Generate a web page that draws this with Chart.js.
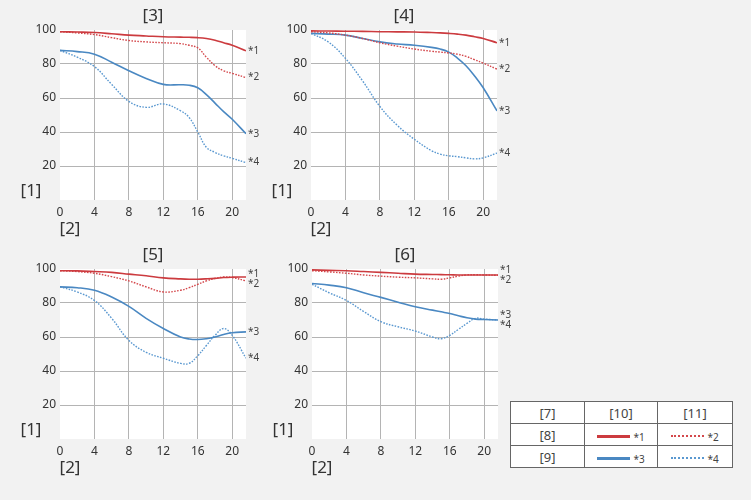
<!DOCTYPE html>
<html>
<head>
<meta charset="utf-8">
<script src="https://cdn.jsdelivr.net/npm/chart.js@4/dist/chart.umd.min.js"></script>
<style>
  body { margin: 0; background: #f2f2f2; font-family: "Noto Sans", sans-serif; color: #333; }
  #page { position: relative; width: 751px; height: 500px; overflow: hidden; }
  .panel { position: absolute; width: 260px; height: 240px; }
  .panel canvas { position: absolute; left: 0; top: 0; }
  .lbl { position: absolute; font-size: 17px; line-height: 20px; transform: translate(-50%, -50%); white-space: nowrap; }
  table.key { position: absolute; left: 510px; top: 401px; border-collapse: collapse; background: #fff; font-size: 13px; color: #444; }
  table.key td { border: 1px solid #666; height: 21px; text-align: center; padding: 0; }
  .sw { display: inline-block; width: 33px; vertical-align: middle; margin-right: 3px; }
  .sm { font-size: 10px; vertical-align: middle; }
</style>
</head>
<body>
<div id="page"></div>
<script>
// sample positions along the x axis
const X = [0, 2, 4, 6, 8, 10, 12, 14, 15, 16, 17, 18, 19, 20, 21.6];
const X_TICKS = [0, 4, 8, 12, 16, 20];
const Y_TICKS = [0, 20, 40, 60, 80, 100];
const SERIES_NAMES = ["*1", "*2", "*3", "*4"];
const PANEL_TITLES = ["[3]", "[4]", "[5]", "[6]"];

// panel [3]
const p3_s1 = [99, 98.8, 98.5, 97.8, 97, 96.5, 96, 95.8, 95.7, 95.5, 95, 94, 92.5, 91, 87.8];
const p3_s2 = [99, 98.3, 97.3, 95.5, 93.8, 93, 92.5, 92, 91, 89.5, 84, 79, 76, 74.5, 72];
const p3_s3 = [88, 87.3, 85.8, 81, 76, 71.5, 68, 67.8, 67.5, 66, 62, 57, 52, 47.5, 39];
const p3_s4 = [88, 84, 78.5, 68, 58, 54.5, 56.5, 52.5, 48.5, 40, 31, 28, 26, 24.5, 22];
// panel [4]
const p4_s1 = [99.5, 99.4, 99.3, 99.2, 99, 98.9, 98.8, 98.5, 98.3, 98, 97.6, 97, 96, 95, 92.5];
const p4_s2 = [99, 98.3, 97, 95, 92.5, 90.5, 88.8, 87.5, 87, 86.5, 85.8, 84.5, 82.5, 80.5, 77];
const p4_s3 = [98, 97.6, 97, 95, 93, 91.8, 91, 89.8, 88.8, 87, 83.5, 79, 73, 66, 52.4];
const p4_s4 = [98, 93, 83.3, 70, 55, 44, 35.7, 29, 27, 26, 25.5, 24.8, 24.2, 24.8, 27.6];
// panel [5]
const p5_s1 = [99, 98.9, 98.5, 98, 97, 96, 94.8, 94.2, 94, 94, 94.2, 94.5, 95, 95.2, 95.3];
const p5_s2 = [99, 98.5, 97.5, 95.5, 93, 89.5, 86.5, 87.5, 89, 91, 93, 94.5, 95.3, 95, 93];
const p5_s3 = [89.5, 89, 87.5, 83.5, 78, 71, 65, 60, 58.8, 58.5, 59, 60, 61.5, 62.5, 63];
const p5_s4 = [89.5, 86.5, 81.5, 71, 58, 51, 47.5, 44.5, 44.5, 49, 55, 61, 65, 61, 47.5];
// panel [6]
const p6_s1 = [99.5, 99.2, 99, 98.5, 98, 97.5, 97, 96.8, 96.7, 96.6, 96.5, 96.5, 96.5, 96.5, 96.5];
const p6_s2 = [99, 98.3, 97.5, 96.5, 95.8, 95.2, 94.8, 94.2, 94, 94.8, 95.8, 96.5, 96.6, 96.5, 96.3];
const p6_s3 = [91.5, 90.5, 89, 86, 83.3, 80.5, 77.8, 75.8, 74.8, 73.8, 72.5, 71.3, 70.5, 70.3, 70];
const p6_s4 = [91, 86, 81.5, 75, 69, 66, 63.5, 60, 59, 61, 64.5, 68, 71, 70.5, 70];

const PANELS = [
  { title: PANEL_TITLES[0], left: 0,   top: 0,   data: [p3_s1, p3_s2, p3_s3, p3_s4] },
  { title: PANEL_TITLES[1], left: 251, top: 0,   data: [p4_s1, p4_s2, p4_s3, p4_s4] },
  { title: PANEL_TITLES[2], left: 0,   top: 239, data: [p5_s1, p5_s2, p5_s3, p5_s4] },
  { title: PANEL_TITLES[3], left: 252, top: 239, data: [p6_s1, p6_s2, p6_s3, p6_s4] }
];

const RED = "#cc3b3f", RED_DOT = "#d4484c", BLUE = "#4a88c2", BLUE_DOT = "#5a98d0";
const STYLES = [
  { borderColor: RED, borderWidth: 1.6 },
  { borderColor: RED_DOT, borderWidth: 1.4, borderDash: [1.6, 1.4] },
  { borderColor: BLUE, borderWidth: 1.6 },
  { borderColor: BLUE_DOT, borderWidth: 1.4, borderDash: [1.6, 1.4] }
];

// white plot area
const plotBg = {
  id: "plotBg",
  beforeDraw(chart) {
    const a = chart.chartArea, ctx = chart.ctx;
    ctx.save(); ctx.fillStyle = "#fff";
    ctx.fillRect(a.left, a.top, a.right - a.left, a.bottom - a.top);
    ctx.restore();
  }
};

// *1..*4 labels at the right end of each line, pushed apart when they overlap
const endLabels = {
  id: "endLabels",
  afterDatasetsDraw(chart) {
    const ctx = chart.ctx, y = chart.scales.y, a = chart.chartArea;
    const items = chart.data.datasets.map(ds => ({
      text: ds.label, y: y.getPixelForValue(ds.data[ds.data.length - 1].y)
    }));
    const gap = 10;
    for (let k = 0; k < 20; k++) {
      items.sort((p, q) => p.y - q.y);
      for (let i = 1; i < items.length; i++) {
        const d = items[i].y - items[i - 1].y;
        if (d < gap) { const s = (gap - d) / 2; items[i].y += s; items[i - 1].y -= s; }
      }
    }
    ctx.save();
    ctx.font = "10px 'Noto Sans'"; ctx.fillStyle = "#444"; ctx.textBaseline = "middle";
    items.forEach(it => ctx.fillText(it.text, a.right + 2, it.y));
    ctx.restore();
  }
};

const page = document.getElementById("page");

PANELS.forEach(p => {
  const box = document.createElement("div");
  box.className = "panel";
  box.style.left = p.left + "px"; box.style.top = p.top + "px";
  box.innerHTML = '<canvas width="260" height="240"></canvas>' +
    '<div class="lbl" style="left:153px;top:15px">' + p.title + '</div>' +
    '<div class="lbl" style="left:31px;top:190px">[1]</div>' +
    '<div class="lbl" style="left:70px;top:228px">[2]</div>';
  page.appendChild(box);

  new Chart(box.querySelector("canvas"), {
    type: "line",
    data: {
      datasets: p.data.map((vals, i) => Object.assign({
        label: SERIES_NAMES[i],
        data: vals.map((v, j) => ({ x: X[j], y: v })),
        pointRadius: 0,
        tension: 0.4,
        fill: false
      }, STYLES[i]))
    },
    options: {
      responsive: false, animation: false,
      layout: { padding: { left: 0, right: 14, top: 30, bottom: 0 } },
      plugins: { legend: { display: false }, tooltip: { enabled: false } },
      scales: {
        x: {
          type: "linear", min: 0, max: 21.6,
          afterBuildTicks: s => { s.ticks = X_TICKS.map(v => ({ value: v })); },
          afterFit: s => { s.height = 40; },
          border: { display: false },
          grid: { drawTicks: false, color: c => c.tick.value === 0 ? "rgba(0,0,0,0)" : "#b4b4b4" },
          ticks: { padding: 5, color: "#333", font: { family: "Noto Sans", size: 12 } }
        },
        y: {
          min: 0, max: 100,
          afterBuildTicks: s => { s.ticks = Y_TICKS.map(v => ({ value: v })); },
          afterFit: s => { s.width = 60; },
          border: { display: false },
          grid: { drawTicks: false, color: c => (c.tick.value === 0 || c.tick.value === 100) ? "rgba(0,0,0,0)" : "#b4b4b4" },
          ticks: { padding: 4, color: "#333", font: { family: "Noto Sans", size: 12 },
                   callback: v => v === 0 ? "" : v }
        }
      }
    },
    plugins: [plotBg, endLabels]
  });
});

// key table
const key = document.createElement("table");
key.className = "key";
const solid = c => '<span class="sw" style="border-top:3px solid ' + c + '"></span>';
const dotted = c => '<span class="sw" style="border-top:2px dotted ' + c + '"></span>';
key.innerHTML =
  '<tr><td style="width:73px">[7]</td><td style="width:72px">[10]</td><td style="width:74px">[11]</td></tr>' +
  '<tr><td>[8]</td><td>' + solid(RED) + '<span class="sm">*1</span></td><td>' + dotted(RED_DOT) + '<span class="sm">*2</span></td></tr>' +
  '<tr><td>[9]</td><td>' + solid(BLUE) + '<span class="sm">*3</span></td><td>' + dotted(BLUE_DOT) + '<span class="sm">*4</span></td></tr>';
page.appendChild(key);
</script>
</body>
</html>
